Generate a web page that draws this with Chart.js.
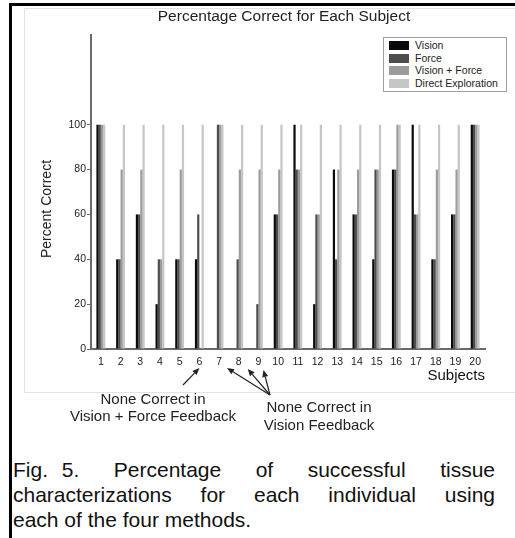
<!DOCTYPE html>
<html>
<head>
<meta charset="utf-8">
<script src="https://cdn.jsdelivr.net/npm/chart.js@4.4.1/dist/chart.umd.min.js"></script>
<style>
  body {
    margin: 0;
    width: 515px;
    height: 538px;
    overflow: hidden;
    position: relative;
    background: #fff;
    font-family: "Liberation Sans", Arial, sans-serif;
    color: #111;
  }
  #frame {
    position: absolute; left: 9px; top: 3px; width: 600px; height: 600px;
    border-left: 3px solid #000; border-top: 3px solid #000;
  }
  #panel {
    position: absolute; left: 24px; top: 8px; width: 600px; height: 383px;
    border: 1px solid #e3e3e3;
  }
  #wrap { position: absolute; left: 0; top: 0; width: 515px; height: 400px; }
  #title {
    position: absolute; left: 0; top: 7px; width: 568px; text-align: center;
    font-size: 15.5px; line-height: 18px; color: #222;
  }
  #ytitle {
    position: absolute; left: 46px; top: 209px; white-space: nowrap;
    transform: translate(-50%, -50%) rotate(-90deg);
    font-size: 14px; color: #222;
  }
  #legend {
    position: absolute; left: 383px; top: 37px; width: 122px; height: 52px;
    border: 1px solid #a0a0a0; background: #fff; padding-top: 1px; box-sizing: content-box;
  }
  #legend .row { height: 12.5px; line-height: 12.5px; font-size: 10.5px; white-space: nowrap; position: relative; color: #222; }
  #legend .sw { position: absolute; left: 5px; top: 2px; width: 20px; height: 9px; }
  #legend .lb { position: absolute; left: 31px; top: 0; }
  .note {
    position: absolute; text-align: center; font-size: 15px; white-space: nowrap; color: #222;
    transform: translateX(-50%);
  }
  #note1 { left: 153px; top: 390px; line-height: 17px; }
  #note2 { left: 319px; top: 398px; line-height: 18px; }
  #caption { position: absolute; left: 13px; top: 457px; width: 482px; font-size: 21px; line-height: 25px; color: #111; }
  #caption .j { text-align: justify; text-align-last: justify; white-space: nowrap; }
  #caption .fig { display: inline-block; word-spacing: 8px; }
</style>
</head>
<body>
<div id="frame"></div>
<div id="panel"></div>
<div id="wrap"><canvas id="myChart"></canvas></div>
<div id="title">Percentage Correct for Each Subject</div>
<div id="ytitle">Percent Correct</div>
<div id="legend"></div>
<div class="note" id="note1">None Correct in<br>Vision + Force Feedback</div>
<div class="note" id="note2">None Correct in<br>Vision Feedback</div>
<div id="caption">
  <div class="j"><span class="fig">Fig. 5.</span> Percentage of successful tissue</div>
  <div class="j">characterizations for each individual using</div>
  <div>each of the four methods.</div>
</div>
<script>
const subjects = ["1", "2", "3", "4", "5", "6", "7", "8", "9", "10",
  "11", "12", "13", "14", "15", "16", "17", "18", "19", "20"];
const seriesNames = ["Vision", "Force", "Vision + Force", "Direct Exploration"];
const vision = [100, 40, 60, 20, 40, 40, 0, 0, 0, 60, 100, 20, 80, 60, 40, 80, 100, 40, 60, 100];
const force = [100, 40, 60, 40, 40, 60, 100, 40, 20, 60, 80, 60, 40, 60, 80, 80, 60, 40, 60, 100];
const visionForce = [100, 80, 80, 40, 80, 0, 100, 80, 80, 80, 80, 60, 80, 80, 80, 100, 60, 80, 80, 100];
const direct = [100, 100, 100, 100, 100, 100, 100, 100, 100, 100,
  100, 100, 100, 100, 100, 100, 100, 100, 100, 100];
const yTicks = [0, 20, 40, 60, 80, 100];

const colors = ["#0a0a0a", "#4d4d4d", "#9c9c9c", "#c6c6c6"];
const series = [vision, force, visionForce, direct];

// arrows from the notes to the subjects that had none correct
const arrows = [
  { tick: 5, dx: 0, tipY: 368, tailX: 183, tailY: 385 },
  { tick: 6, dx: 8, tipY: 368, tailX: 270, tailY: 395 },
  { tick: 7, dx: 9, tipY: 369, tailX: 270, tailY: 395 },
  { tick: 8, dx: 5, tipY: 370, tailX: 270, tailY: 395 },
];

const arrowPlugin = {
  id: "arrows",
  afterDraw(chart) {
    const c = chart.ctx;
    const xs = chart.scales.x;
    c.save();
    c.strokeStyle = "#222";
    c.fillStyle = "#222";
    c.lineWidth = 1.2;
    for (let a of arrows) {
      const tx = xs.getPixelForValue(a.tick) + a.dx;
      const ty = a.tipY;
      const ang = Math.atan2(ty - a.tailY, tx - a.tailX);
      const len = 7, w = 3;
      const bx = tx - len * Math.cos(ang), by = ty - len * Math.sin(ang);
      c.beginPath();
      c.moveTo(a.tailX, a.tailY);
      c.lineTo(bx, by);
      c.stroke();
      c.beginPath();
      c.moveTo(tx, ty);
      c.lineTo(bx + w * Math.sin(ang), by - w * Math.cos(ang));
      c.lineTo(bx - w * Math.sin(ang), by + w * Math.cos(ang));
      c.closePath();
      c.fill();
    }
    c.restore();
  },
};

const legend = document.getElementById("legend");
seriesNames.forEach(function (name, i) {
  legend.innerHTML += '<div class="row"><span class="sw" style="background:' + colors[i] +
    '"></span><span class="lb">' + name + "</span></div>";
});

const config = {
  type: "bar",
  data: {
    labels: subjects,
    datasets: seriesNames.map(function (name, i) {
      return {
        label: name,
        data: series[i],
        backgroundColor: colors[i],
        borderWidth: 0,
        categoryPercentage: 0.45,
        barPercentage: 1.0,
      };
    }),
  },
  options: {
    responsive: true,
    maintainAspectRatio: false,
    animation: false,
    layout: {
      padding: { left: 0, top: 35, right: 30, bottom: 0 },
    },
    scales: {
      x: {
        grid: { display: false },
        border: { display: true, color: "#6a6a6a", width: 2 },
        ticks: {
          autoSkip: false,
          maxRotation: 0,
          padding: -1,
          color: "#222",
          font: { size: 10.5, family: "Liberation Sans" },
        },
        title: {
          display: true,
          text: "Subjects",
          align: "end",
          color: "#111",
          padding: { top: 0, bottom: 15 },
          font: { size: 15, family: "Liberation Sans" },
        },
        afterFit: function (scale) {
          scale.height = 51;
        },
      },
      y: {
        min: 0,
        max: 140,
        ticks: {
          stepSize: 20,
          padding: 1,
          color: "#222",
          font: { size: 10.5, family: "Liberation Sans" },
        },
        grid: {
          drawOnChartArea: false,
          tickLength: 4,
          tickColor: "#6a6a6a",
        },
        border: { display: true, color: "#6a6a6a", width: 2 },
        afterBuildTicks: function (axis) {
          axis.ticks = yTicks.map(function (v) { return { value: v }; });
        },
        afterFit: function (scale) {
          scale.width = 91;
        },
      },
    },
    plugins: {
      legend: { display: false },
      title: { display: false },
      tooltip: { enabled: false },
    },
  },
  plugins: [arrowPlugin],
};

const ctx = document.getElementById("myChart");
const tissueChart = new Chart(ctx, config);
</script>
</body>
</html>
